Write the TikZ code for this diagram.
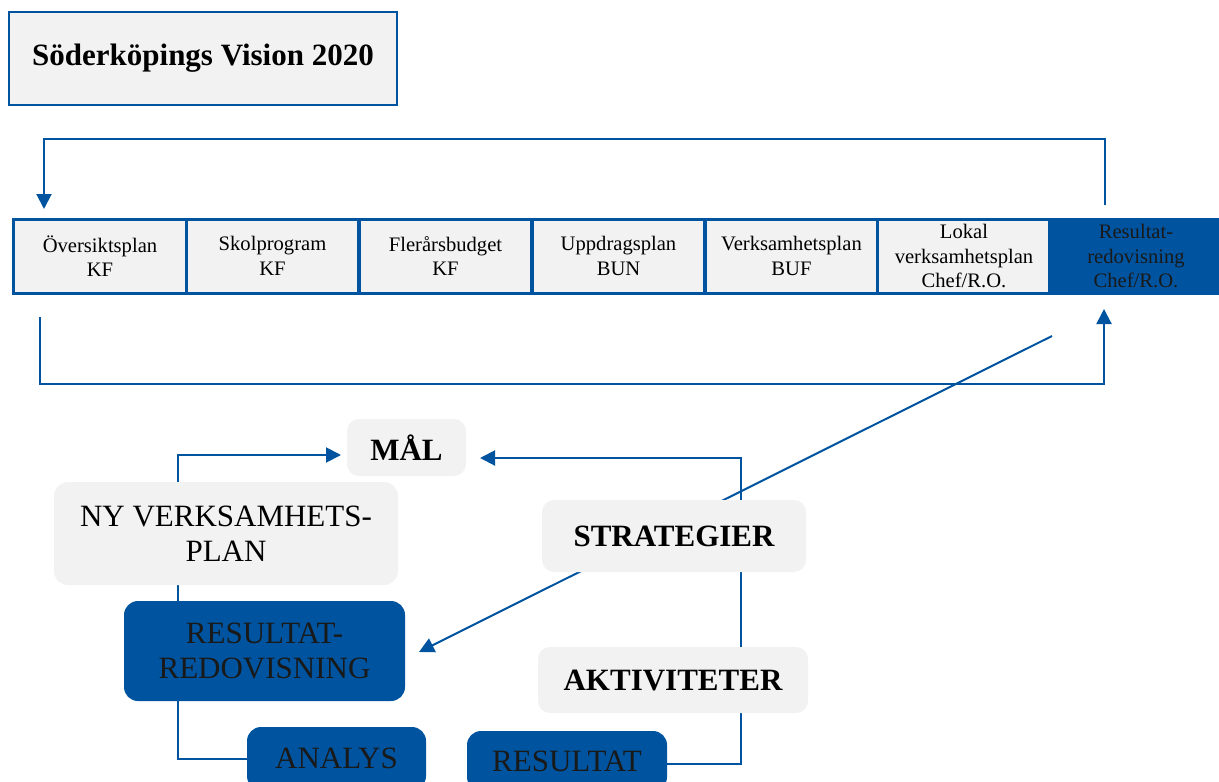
\documentclass[tikz,border=0pt]{standalone}
\usepackage{fontspec}
\setmainfont{Liberation Serif}
\usetikzlibrary{arrows.meta,backgrounds}
\definecolor{dblue}{RGB}{0,84,159}
\definecolor{lgray}{RGB}{242,242,242}
\begin{document}
\begin{tikzpicture}[x=0.5pt,y=-0.5pt,
  cell/.style={draw=dblue,line width=1.5pt,fill=lgray,minimum width=86.25pt,minimum height=37pt,inner sep=0pt,align=center,font=\fontsize{10.3}{12.25}\selectfont},
  titlebx/.style={draw=dblue,line width=1pt,fill=lgray,minimum width=194pt,minimum height=46.5pt,inner sep=0pt,font=\fontsize{15.5}{18}\selectfont\bfseries},
  graybx/.style={fill=lgray,rounded corners=6pt,inner sep=0pt,align=center,font=\fontsize{15.5}{17.5}\selectfont\bfseries},
  graytx/.style={fill=lgray,rounded corners=7pt,inner sep=0pt,align=center,font=\fontsize{15.5}{17.5}\selectfont},
  bluebx/.style={fill=dblue,rounded corners=7pt,inner sep=0pt,align=center,text=black!90,font=\fontsize{15.5}{17.5}\selectfont},
  conn/.style={draw=dblue,line width=1pt},
  arr/.style={conn,-{Triangle[length=7.5pt,width=7.5pt]}}
]
\useasboundingbox (0,0) rectangle (1219,781);
\clip (0,0) rectangle (1219,781);

% title
\node[titlebx] (title) at (203,58.5) {Söderköpings Vision 2020};

% row of cells
\node[cell] (c1) at (100,256) {Översiktsplan\\KF};
\node[cell] (c2) at (272.5,256) {Skolprogram\\KF};
\node[cell] (c3) at (445.5,256) {Flerårsbudget\\KF};
\node[cell] (c4) at (618.5,256) {Uppdragsplan\\BUN};
\node[cell] (c5) at (791.5,256) {Verksamhetsplan\\BUF};
\node[cell] (c6) at (964,256) {Lokal\\verksamhetsplan\\Chef/R.O.};
\node[cell,fill=dblue,text=black!90] (c7) at (1136,256) {Resultat-\\redovisning\\Chef/R.O.};

% cycle boxes
\node[graybx,minimum width=59.5pt,minimum height=28.5pt] (mal) at (406.5,447.5) {MÅL};
\node[graytx,minimum width=172pt,minimum height=51.5pt] (ny) at (226,533.5) {NY VERKSAMHETS-\\PLAN};
\node[bluebx,minimum width=140.5pt,minimum height=50pt] (rr) at (264.5,651) {RESULTAT-\\REDOVISNING};
\node[bluebx,minimum width=89.5pt,minimum height=31.5pt] (an) at (336.5,758.5) {ANALYS};
\node[bluebx,minimum width=100pt,minimum height=30pt] (res) at (567,761) {RESULTAT};
\node[graybx,minimum width=132pt,minimum height=36pt] (str) at (674,536) {STRATEGIER};
\node[graybx,minimum width=135pt,minimum height=33pt] (akt) at (673,680) {AKTIVITETER};

\begin{pgfonlayer}{background}
  % coordinates
  \coordinate (tA) at (1105,205);
  \coordinate (tB) at (44,209);
  \coordinate (bA) at (40,317);
  \coordinate (bB) at (1104,309);
  \coordinate (dA) at (1052,336);
  \coordinate (dB) at (419,652);
  \coordinate (vL) at (178,0);
  \coordinate (vR) at (741,0);
  \coordinate (mL) at (341,455);
  \coordinate (mR) at (480,458);
  % top loop
  \draw[arr] (tA) -- ++(0,-66) -| (tB);
  % bottom loop
  \draw[arr] (bA) -- ++(0,67) -| (bB);
  % diagonal
  \draw[arr] (dA) -- (dB);
  % left cycle
  \draw[arr] (ny.north -| vL) |- (mL);
  \draw[conn] (ny.south -| vL) -- (rr.north -| vL);
  \draw[conn] (rr.south -| vL) |- (an.west);
  % right cycle
  \draw[conn] ([yshift=-1.5pt]res.east) -| (akt.south -| vR);
  \draw[conn] (akt.north -| vR) -- (str.south -| vR);
  \draw[arr] (str.north -| vR) |- (mR);
\end{pgfonlayer}
\end{tikzpicture}
\end{document}
